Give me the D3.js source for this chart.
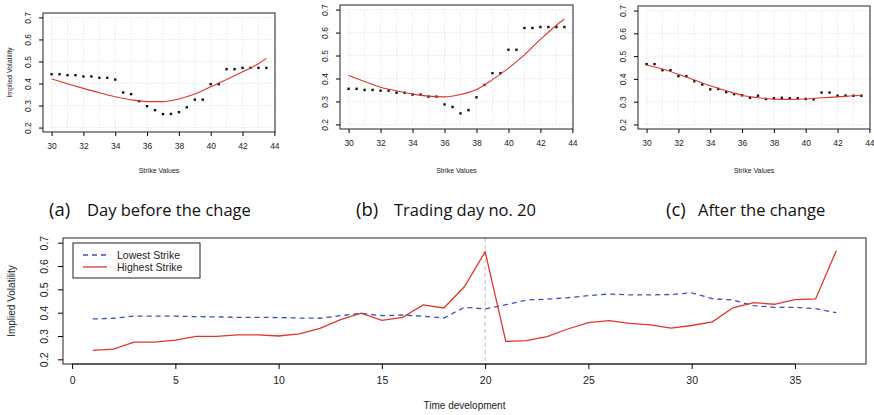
<!DOCTYPE html>
<html lang="en">
<head>
<meta charset="utf-8">
<title>Implied volatility smiles</title>
<script src="https://cdn.jsdelivr.net/npm/d3@7"></script>
<style>
  body { margin: 0; background: #fff; }
  svg { display: block; }
  text { font-family: "Liberation Sans", Arial, sans-serif; fill: #222; }
  .caption { font-family: "Open Sans", "Noto Sans", sans-serif; font-size: 16.5px; fill: #111; }
  .caption.tag { font-size: 18.5px; }
</style>
</head>
<body>
<script>
// strike grid shared by the three smile panels
var strikes = [30, 30.5, 31, 31.5, 32, 32.5, 33, 33.5, 34, 34.5, 35, 35.5, 36, 36.5,
               37, 37.5, 38, 38.5, 39, 39.5, 40, 40.5, 41, 41.5, 42, 42.5, 43, 43.5];

var ivBefore = [0.442, 0.442, 0.438, 0.438, 0.432, 0.432, 0.426, 0.426, 0.418, 0.359,
                0.352, 0.320, 0.297, 0.279, 0.261, 0.262, 0.270, 0.292, 0.327, 0.327,
                0.397, 0.397, 0.465, 0.465, 0.471, 0.471, 0.471, 0.471];
var ivDay20 =  [0.355, 0.355, 0.350, 0.350, 0.347, 0.347, 0.338, 0.338, 0.330, 0.330,
                0.321, 0.321, 0.287, 0.276, 0.248, 0.262, 0.318, 0.372, 0.423, 0.423,
                0.525, 0.525, 0.620, 0.620, 0.624, 0.624, 0.624, 0.624];
var ivAfter =  [0.465, 0.465, 0.438, 0.438, 0.412, 0.412, 0.390, 0.375, 0.354, 0.356,
                0.342, 0.333, 0.328, 0.317, 0.326, 0.312, 0.315, 0.317, 0.315, 0.315,
                0.312, 0.310, 0.340, 0.340, 0.326, 0.327, 0.326, 0.326];

// fitted curves
var fitStrikes = [30, 31, 32, 33, 34, 35, 36, 37, 38, 39, 40, 41, 42, 43, 43.5];
var fitBefore = [0.421, 0.399, 0.378, 0.358, 0.340, 0.326, 0.318, 0.318, 0.330, 0.352, 0.385, 0.418, 0.453, 0.490, 0.514];
var fitDay20  = [0.413, 0.387, 0.362, 0.346, 0.332, 0.323, 0.320, 0.330, 0.352, 0.395, 0.445, 0.503, 0.570, 0.632, 0.659];
var fitAfter  = [0.461, 0.443, 0.420, 0.395, 0.370, 0.348, 0.328, 0.317, 0.311, 0.310, 0.312, 0.317, 0.321, 0.326, 0.328];

// time series of lowest and highest strike IV
var days = d3.range(1, 38);
var lowestStrike = [0.373, 0.376, 0.385, 0.385, 0.385, 0.383, 0.382, 0.380, 0.380, 0.379,
                    0.377, 0.376, 0.387, 0.397, 0.387, 0.390, 0.385, 0.377, 0.423, 0.416,
                    0.434, 0.454, 0.458, 0.464, 0.473, 0.480, 0.476, 0.476, 0.478, 0.485,
                    0.460, 0.454, 0.430, 0.423, 0.423, 0.417, 0.400];
var highestStrike = [0.238, 0.244, 0.274, 0.274, 0.282, 0.298, 0.298, 0.305, 0.305, 0.300,
                     0.309, 0.333, 0.370, 0.398, 0.367, 0.380, 0.433, 0.420, 0.512, 0.661,
                     0.277, 0.280, 0.297, 0.330, 0.357, 0.366, 0.354, 0.348, 0.334, 0.345,
                     0.361, 0.421, 0.443, 0.436, 0.456, 0.459, 0.665];

var yTicks = [0.2, 0.3, 0.4, 0.5, 0.6, 0.7];
var strikeTicks = [30, 32, 34, 36, 38, 40, 42, 44];
var dayTicks = [0, 5, 10, 15, 20, 25, 30, 35];
var captionTags = ["(a)", "(b)", "(c)"];
var captions = ["Day before the chage", "Trading day no. 20", "After the change"];

var red = "#e3342a", blue = "#3a4fbf";

var svg = d3.select("body").append("svg")
    .attr("width", 874)
    .attr("height", 415);

function smilePanel(box, iv, fit, yTitle, tag, caption, cap) {
  var g = svg.append("g");
  var x = d3.scaleLinear().domain([29.46, 44.04]).range([box.l, box.r]);
  var y = d3.scaleLinear().domain([0.18, 0.72]).range([box.b, box.t]);

  // dotted grid
  g.selectAll(".gv").data(d3.range(30, 45)).enter().append("line")
    .attr("x1", function(d) { return x(d); }).attr("x2", function(d) { return x(d); })
    .attr("y1", y(0.2)).attr("y2", y(0.7))
    .attr("stroke", "#d0d0d0").attr("stroke-width", 0.8).attr("stroke-dasharray", "1,2");
  g.selectAll(".gh").data(yTicks).enter().append("line")
    .attr("x1", x(30)).attr("x2", x(44))
    .attr("y1", function(d) { return y(d); }).attr("y2", function(d) { return y(d); })
    .attr("stroke", "#d0d0d0").attr("stroke-width", 0.8).attr("stroke-dasharray", "1,2");

  g.append("rect")
    .attr("x", box.l).attr("y", box.t)
    .attr("width", box.r - box.l).attr("height", box.b - box.t)
    .attr("fill", "none").attr("stroke", "#222").attr("stroke-width", 1);

  var xa = g.append("g").attr("transform", "translate(0," + box.b + ")")
    .call(d3.axisBottom(x).tickValues(strikeTicks).tickSize(4).tickPadding(7).tickFormat(d3.format("d")));
  xa.select(".domain").remove();
  xa.selectAll("text").attr("font-size", 8.5).attr("fill", "#333");

  var ya = g.append("g").attr("transform", "translate(" + box.l + ",0)")
    .call(d3.axisLeft(y).tickValues(yTicks).tickSize(4).tickFormat(d3.format(".1f")));
  ya.select(".domain").remove();
  ya.selectAll("text")
    .attr("font-size", 8.5).attr("fill", "#333")
    .attr("text-anchor", "middle")
    .attr("x", null).attr("dy", null)
    .attr("transform", "translate(-12,0) rotate(-90)");

  g.selectAll(".pt").data(iv).enter().append("rect")
    .attr("x", function(d, i) { return x(strikes[i]) - 1.2; })
    .attr("y", function(d) { return y(d) - 1.2; })
    .attr("width", 2.4).attr("height", 2.4)
    .attr("fill", "#111");

  var line = d3.line()
    .x(function(d, i) { return x(fitStrikes[i]); })
    .y(function(d) { return y(d); })
    .curve(d3.curveMonotoneX);
  g.append("path").datum(fit)
    .attr("d", line).attr("fill", "none")
    .attr("stroke", red).attr("stroke-width", 1.1);

  g.append("text")
    .attr("x", (box.l + box.r) / 2).attr("y", 173)
    .attr("text-anchor", "middle").attr("font-size", 7).attr("fill", "#333")
    .text("Strike Values");

  if (yTitle) {
    g.append("text")
      .attr("transform", "translate(12," + ((box.t + box.b) / 2) + ") rotate(-90)")
      .attr("text-anchor", "middle").attr("font-size", 7).attr("fill", "#333")
      .text(yTitle);
  }

  // caption: tag in slightly larger type, as in the source figure
  svg.append("text").attr("class", "caption tag")
    .attr("x", cap.tx).attr("y", 216)
    .text(tag);
  svg.append("text").attr("class", "caption")
    .attr("x", cap.x).attr("y", 216)
    .text(caption);
}

smilePanel({l: 43, r: 275, t: 13, b: 132}, ivBefore, fitBefore, "Implied Volatility",
           captionTags[0], captions[0], {tx: 49, x: 87});
smilePanel({l: 340, r: 573, t: 5, b: 129}, ivDay20, fitDay20, null,
           captionTags[1], captions[1], {tx: 356, x: 394});
smilePanel({l: 638, r: 870, t: 6, b: 129}, ivAfter, fitAfter, null,
           captionTags[2], captions[2], {tx: 666, x: 698});

// bottom panel: time development
var box = {l: 63, r: 866, t: 238, b: 364};
var x = d3.scaleLinear().domain([-0.44, 38.44]).range([box.l, box.r]);
var y = d3.scaleLinear().domain([0.18, 0.72]).range([box.b, box.t]);
var bottom = svg.append("g");

bottom.append("line")
  .attr("x1", x(20)).attr("x2", x(20))
  .attr("y1", box.t).attr("y2", box.b)
  .attr("stroke", "#bbb").attr("stroke-width", 1).attr("stroke-dasharray", "4,3");

var tLine = d3.line()
  .x(function(d, i) { return x(days[i]); })
  .y(function(d) { return y(d); });

bottom.append("path").datum(lowestStrike)
  .attr("d", tLine).attr("fill", "none")
  .attr("stroke", blue).attr("stroke-width", 1.3).attr("stroke-dasharray", "5,4");
bottom.append("path").datum(highestStrike)
  .attr("d", tLine).attr("fill", "none")
  .attr("stroke", red).attr("stroke-width", 1.3);

bottom.append("rect")
  .attr("x", box.l).attr("y", box.t)
  .attr("width", box.r - box.l).attr("height", box.b - box.t)
  .attr("fill", "none").attr("stroke", "#222").attr("stroke-width", 1);

var bx = bottom.append("g").attr("transform", "translate(0," + box.b + ")")
  .call(d3.axisBottom(x).tickValues(dayTicks).tickSize(5).tickPadding(8));
bx.select(".domain").attr("d", "M" + x(0) + ",0H" + x(35)).attr("stroke", "#222");
bx.selectAll("text").attr("font-size", 10.5).attr("fill", "#222");

var by = bottom.append("g").attr("transform", "translate(" + box.l + ",0)")
  .call(d3.axisLeft(y).tickValues(yTicks).tickSize(5).tickFormat(d3.format(".1f")));
by.select(".domain").remove();
by.selectAll("text")
  .attr("font-size", 10.5).attr("fill", "#222")
  .attr("text-anchor", "middle")
  .attr("x", null).attr("dy", null)
  .attr("transform", "translate(-15,0) rotate(-90)");

bottom.append("text")
  .attr("x", (box.l + box.r) / 2).attr("y", 409)
  .attr("text-anchor", "middle").attr("font-size", 10)
  .text("Time development");
bottom.append("text")
  .attr("transform", "translate(15," + ((box.t + box.b) / 2) + ") rotate(-90)")
  .attr("text-anchor", "middle").attr("font-size", 10)
  .text("Implied Volatility");

// legend
var legend = bottom.append("g");
legend.append("rect")
  .attr("x", 73).attr("y", 243).attr("width", 127).attr("height", 35)
  .attr("fill", "#fff").attr("stroke", "#222").attr("stroke-width", 1);
var legItems = [{name: "Lowest Strike", color: blue, dash: "5,4"},
                {name: "Highest Strike", color: red, dash: null}];
legItems.forEach(function(d, i) {
  var ly = 255 + i * 12;
  legend.append("line")
    .attr("x1", 83).attr("x2", 107).attr("y1", ly).attr("y2", ly)
    .attr("stroke", d.color).attr("stroke-width", 1.3)
    .attr("stroke-dasharray", d.dash);
  legend.append("text")
    .attr("x", 117).attr("y", ly + 4).attr("font-size", 10.5)
    .text(d.name);
});
</script>
</body>
</html>
